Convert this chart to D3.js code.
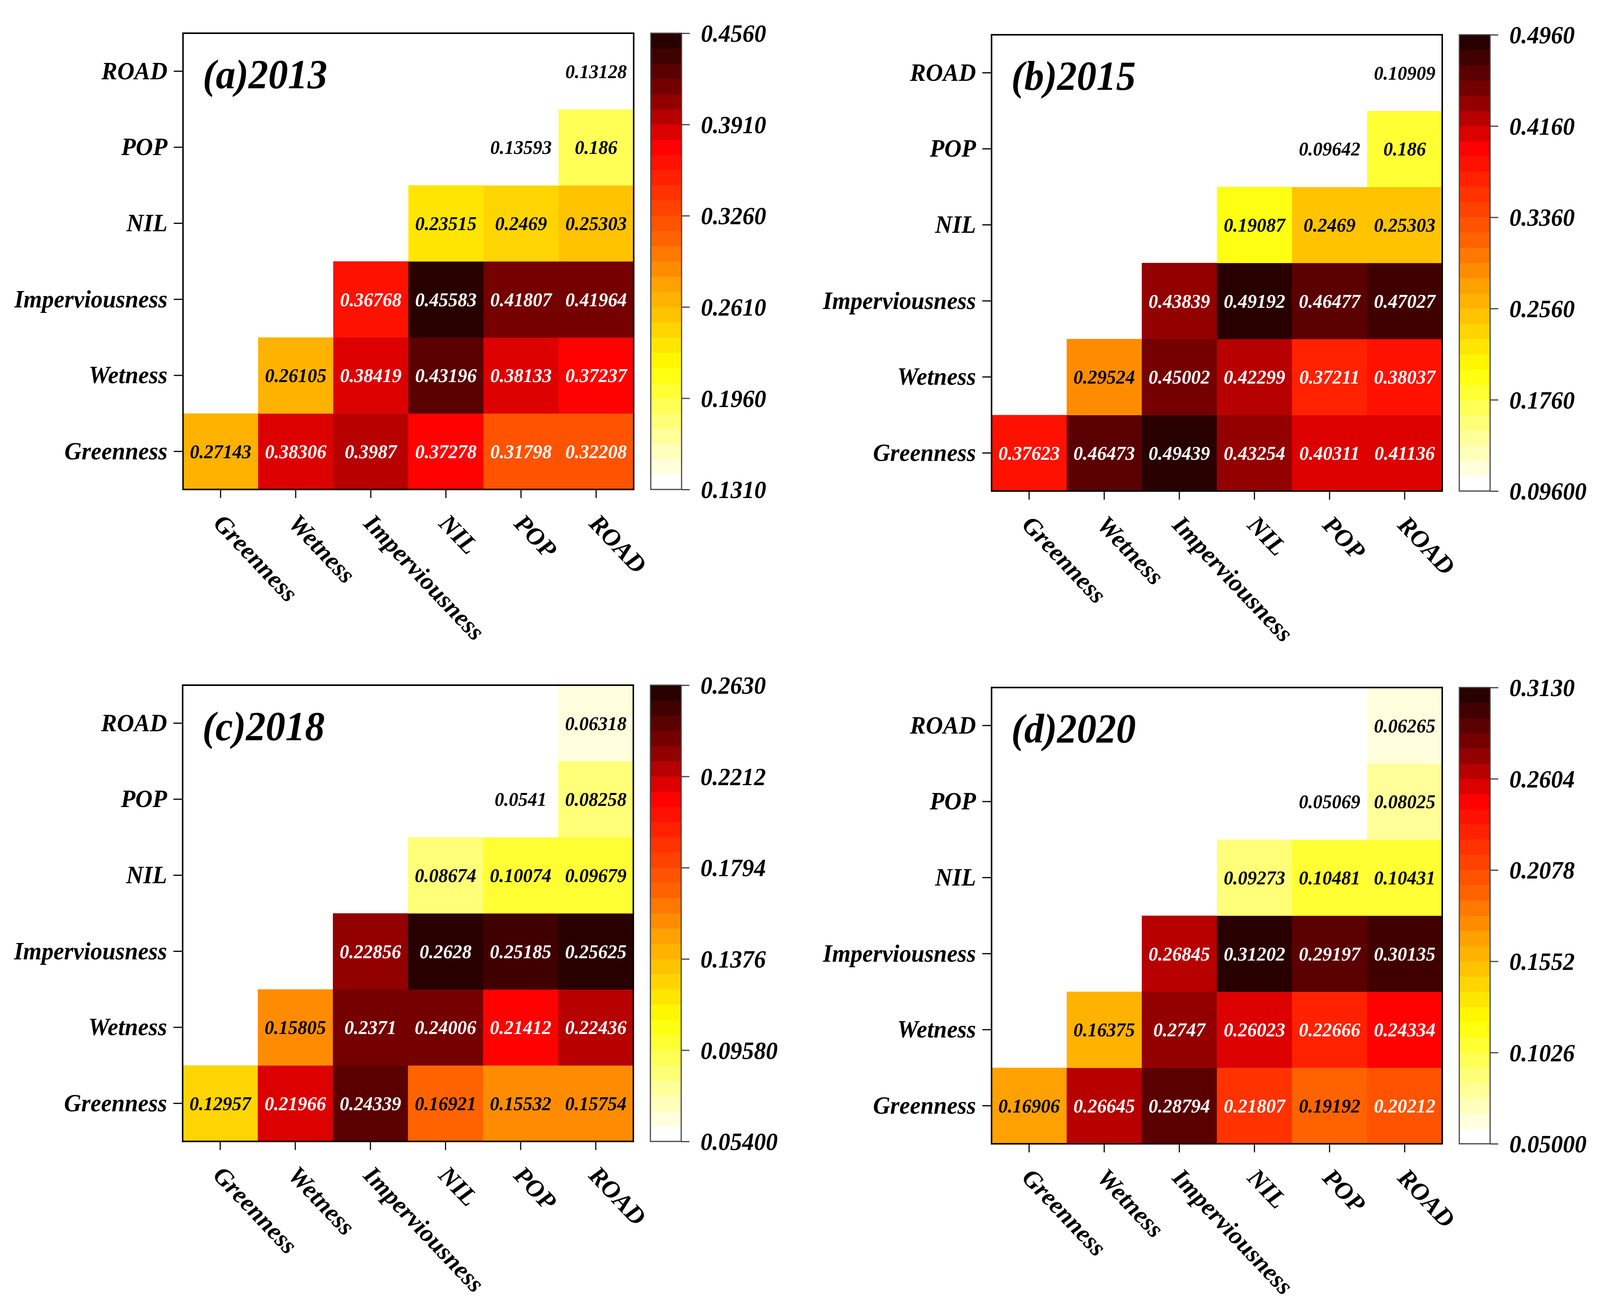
<!DOCTYPE html>
<html>
<head>
    <meta charset="utf-8">
    <title></title>
    <style>
        html, body {
            margin: 0;
            padding: 0;
            overflow: hidden;
            background: #fff;
        }
        svg {
            display: block;
        }
        text {
            font-family: "Liberation Serif", "Times New Roman", serif;
            font-weight: bold;
            font-style: italic;
        }
        .axis path.domain {
            display: none;
        }
        .axis line {
            stroke: #000;
            stroke-width: 3px;
        }
    </style>
</head>
<body>
<script src="https://cdn.jsdelivr.net/npm/d3@7"></script>
<script>
    var width = 4310;
    var height = 3351;

    // variables, in axis order (x left -> right, y bottom -> top)
    var vars = ["Greenness", "Wetness", "Imperviousness", "NIL", "POP", "ROAD"];
    var titles = ["(a)2013", "(b)2015", "(c)2018", "(d)2020"];

    // row i holds the values for columns i..5 (upper triangle)
    var v2013 = [
        [0.27143, 0.38306, 0.3987, 0.37278, 0.31798, 0.32208],
        [0.26105, 0.38419, 0.43196, 0.38133, 0.37237],
        [0.36768, 0.45583, 0.41807, 0.41964],
        [0.23515, 0.2469, 0.25303],
        [0.13593, 0.186],
        [0.13128]
    ];
    var v2015 = [
        [0.37623, 0.46473, 0.49439, 0.43254, 0.40311, 0.41136],
        [0.29524, 0.45002, 0.42299, 0.37211, 0.38037],
        [0.43839, 0.49192, 0.46477, 0.47027],
        [0.19087, 0.2469, 0.25303],
        [0.09642, 0.186],
        [0.10909]
    ];
    var v2018 = [
        [0.12957, 0.21966, 0.24339, 0.16921, 0.15532, 0.15754],
        [0.15805, 0.2371, 0.24006, 0.21412, 0.22436],
        [0.22856, 0.2628, 0.25185, 0.25625],
        [0.08674, 0.10074, 0.09679],
        [0.0541, 0.08258],
        [0.06318]
    ];
    var v2020 = [
        [0.16906, 0.26645, 0.28794, 0.21807, 0.19192, 0.20212],
        [0.16375, 0.2747, 0.26023, 0.22666, 0.24334],
        [0.26845, 0.31202, 0.29197, 0.30135],
        [0.09273, 0.10481, 0.10431],
        [0.05069, 0.08025],
        [0.06265]
    ];

    // colour bar tick labels (first = min, last = max)
    var ticks2013 = ["0.1310", "0.1960", "0.2610", "0.3260", "0.3910", "0.4560"];
    var ticks2015 = ["0.09600", "0.1760", "0.2560", "0.3360", "0.4160", "0.4960"];
    var ticks2018 = ["0.05400", "0.09580", "0.1376", "0.1794", "0.2212", "0.2630"];
    var ticks2020 = ["0.05000", "0.1026", "0.1552", "0.2078", "0.2604", "0.3130"];

    var values = [v2013, v2015, v2018, v2020];
    var ticks = [ticks2013, ticks2015, ticks2018, ticks2020];

    // panel placement
    var origins = [[493, 85], [2671, 89], [492, 1754], [2671, 1760]];
    var pw = 1214;
    var ph = 1168;
    var levels = 30;

    var ramp = d3.scaleLinear()
            .domain([0, 0.26, 0.45, 0.55, 0.76, 0.88, 1])
            .range(["#ffffff", "#ffff00", "#ffa000", "#ff6400", "#ff0000", "#800000", "#280000"])
            .interpolate(d3.interpolateRgb)
            .clamp(true);

    function levelColor(k) {
        return ramp(k / (levels - 1));
    }

    // stretch the drawing over the whole window
    var svg = d3.select("body").append("svg")
            .attr("viewBox", "0 0 " + width + " " + height)
            .attr("preserveAspectRatio", "none")
            .style("width", "100vw")
            .style("height", "100vh");

    svg.append("rect").attr("width", width).attr("height", height).attr("fill", "#fff");

    var x = d3.scaleBand().domain(vars).range([0, pw]);
    var y = d3.scaleBand().domain(vars.slice().reverse()).range([0, ph]);

    values.forEach(function(rows, p) {
        var labels = ticks[p];
        var vmin = +labels[0];
        var vmax = +labels[labels.length - 1];
        var norm = d3.scaleLinear().domain([vmin, vmax]).range([0, 1]).clamp(true);
        var level = function(v) {return Math.min(levels - 1, Math.floor(norm(v) * levels));};

        var g = svg.append("g")
                .attr("transform", "translate(" + origins[p] + ")");

        var cells = [];
        rows.forEach(function(row, i) {
            row.forEach(function(v, k) {
                cells.push({row: vars[i], col: vars[i + k], value: v});
            });
        });

        g.selectAll("rect.cell").data(cells).enter().append("rect")
                .attr("class", "cell")
                .attr("x", function(d) {return x(d.col);})
                .attr("y", function(d) {return y(d.row);})
                .attr("width", x.bandwidth() + 0.5)
                .attr("height", y.bandwidth() + 0.5)
                .attr("fill", function(d) {return levelColor(level(d.value));});

        g.selectAll("text.val").data(cells).enter().append("text")
                .attr("class", "val")
                .attr("x", function(d) {return x(d.col) + x.bandwidth() / 2;})
                .attr("y", function(d) {return y(d.row) + y.bandwidth() / 2;})
                .attr("dy", "0.34em")
                .attr("text-anchor", "middle")
                .style("font-size", "51px")
                .attr("fill", function(d) {return norm(d.value) > 0.56 ? "#fff" : "#000";})
                .text(function(d) {return String(d.value);});

        g.append("rect")
                .attr("width", pw)
                .attr("height", ph)
                .attr("fill", "none")
                .attr("stroke", "#000")
                .attr("stroke-width", 4);

        g.append("text")
                .attr("x", 53)
                .attr("y", 141)
                .style("font-size", "106px")
                .text(titles[p]);

        // y axis
        var ya = g.append("g").attr("class", "axis")
                .call(d3.axisLeft(y).tickSize(25).tickPadding(17));
        ya.selectAll("text")
                .style("font-size", "64px")
                .attr("fill", "#000")
                .attr("dy", "0.32em");

        // x axis
        var xa = g.append("g").attr("class", "axis")
                .attr("transform", "translate(0," + ph + ")")
                .call(d3.axisBottom(x).tickSize(22));
        xa.selectAll("text")
                .style("font-size", "66px")
                .attr("fill", "#000")
                .attr("x", 0)
                .attr("y", 0)
                .attr("dy", 0)
                .attr("text-anchor", "start")
                .attr("transform", "translate(-22,90) rotate(45)");

        // colour bar
        var cb = g.append("g").attr("transform", "translate(" + (pw + 46) + ",0)");
        var cbw = 83;
        var cy = d3.scaleLinear().domain([vmin, vmax]).range([ph, 0]);
        var step = (vmax - vmin) / levels;

        cb.selectAll("rect.lv").data(d3.range(levels)).enter().append("rect")
                .attr("class", "lv")
                .attr("x", 0)
                .attr("y", function(k) {return cy(vmin + (k + 1) * step);})
                .attr("width", cbw)
                .attr("height", function(k) {return cy(vmin + k * step) - cy(vmin + (k + 1) * step) + 0.5;})
                .attr("fill", levelColor);

        cb.append("rect")
                .attr("width", cbw)
                .attr("height", ph)
                .attr("fill", "none")
                .attr("stroke", "#444")
                .attr("stroke-width", 3);

        var ca = cb.append("g").attr("class", "axis")
                .attr("transform", "translate(" + cbw + ",0)")
                .call(d3.axisRight(cy)
                        .tickValues(labels.map(Number))
                        .tickFormat(function(d, i) {return labels[i];})
                        .tickSize(22)
                        .tickPadding(30));
        ca.selectAll("line").style("stroke", "#444");
        ca.selectAll("text")
                .style("font-size", "64px")
                .attr("fill", "#000")
                .attr("dy", "0.34em");
    });
</script>
</body>
</html>
